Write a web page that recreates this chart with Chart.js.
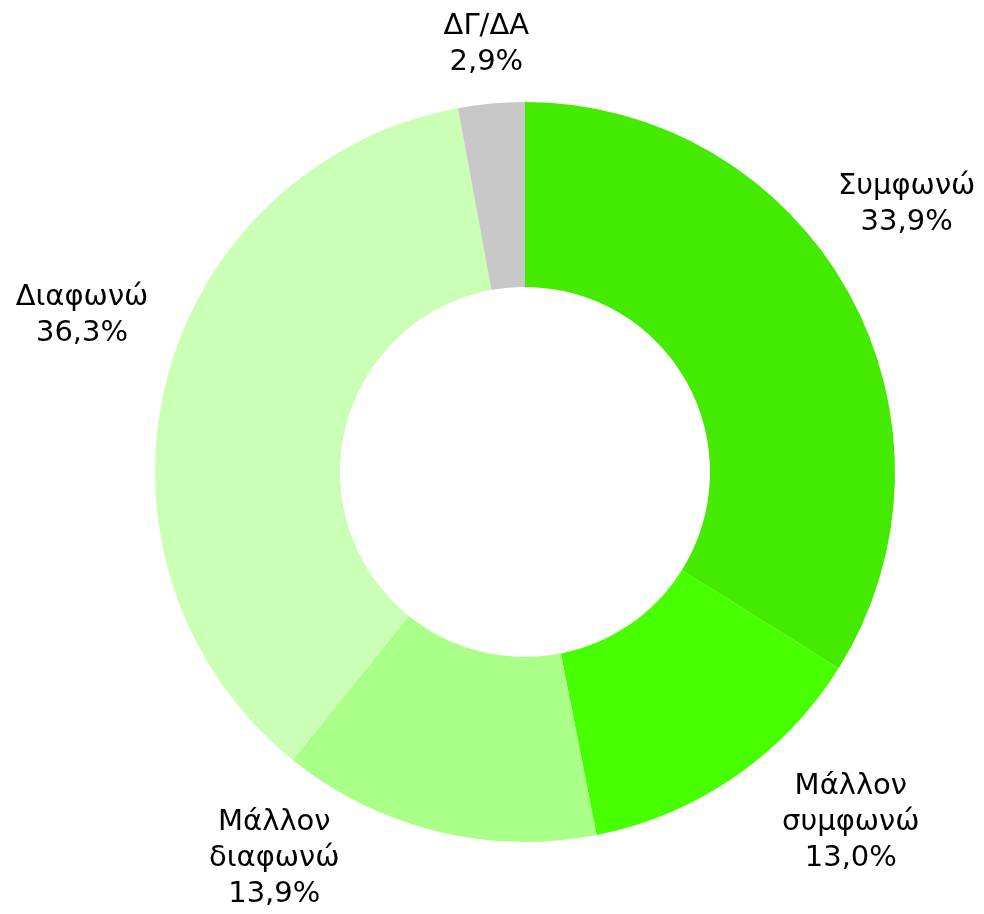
<!DOCTYPE html>
<html>
<head>
<meta charset="utf-8">
<script src="https://cdn.jsdelivr.net/npm/chart.js@4/dist/chart.umd.min.js"></script>
<style>
    html, body { margin: 0; padding: 0; background: #fff; }
    #wrap { width: 984px; height: 914px; }
</style>
</head>
<body>
<div id="wrap"><canvas id="pieChart"></canvas></div>
<script>
// data
const labels = [['Συμφωνώ'], ['Μάλλον', 'συμφωνώ'], ['Μάλλον', 'διαφωνώ'], ['Διαφωνώ'], ['ΔΓ/ΔΑ']];
const values = [33.9, 13.0, 13.9, 36.3, 2.9];
const colors = ['#44EB00', '#48FF00', '#AAFF88', '#CCFFB6', '#C8C8C8'];

// nudges for the outside labels, relative to the mid angle point
const labelNudge = [[-19, -46], [66, -27], [-141, -58], [1, -44], [3, 29]];

const outsideLabels = {
    id: 'outsideLabels',
    afterDatasetsDraw(chart, args, opts) {
        const ctx = chart.ctx;
        const meta = chart.getDatasetMeta(0);
        ctx.save();
        ctx.font = opts.font;
        ctx.fillStyle = '#000';
        ctx.textAlign = 'center';
        ctx.textBaseline = 'middle';
        meta.data.forEach((arc, i) => {
            const p = arc.getProps(['x', 'y', 'startAngle', 'endAngle', 'outerRadius'], true);
            const mid = (p.startAngle + p.endAngle) / 2;
            const r = p.outerRadius + opts.distance;
            const cx = p.x + Math.cos(mid) * r + labelNudge[i][0];
            const cy = p.y + Math.sin(mid) * r + labelNudge[i][1];
            const lines = labels[i].concat([values[i].toFixed(1).replace('.', ',') + '%']);
            const top = cy - (lines.length - 1) * opts.lineHeight / 2;
            lines.forEach((t, j) => ctx.fillText(t, cx, top + j * opts.lineHeight));
        });
        ctx.restore();
    }
};

const ctx = document.getElementById('pieChart').getContext('2d');
new Chart(ctx, {
    type: 'doughnut',
    data: {
        labels: labels.map(l => l.join(' ')),
        datasets: [{
            data: values,
            backgroundColor: colors,
            borderWidth: 0
        }]
    },
    options: {
        responsive: true,
        maintainAspectRatio: false,
        animation: false,
        cutout: '50%',
        layout: { padding: { left: 155, right: 89, top: 102, bottom: 72 } },
        plugins: {
            legend: { display: false },
            tooltip: { enabled: false },
            outsideLabels: { font: '29px "DejaVu Sans"', lineHeight: 36, distance: 88 }
        }
    },
    plugins: [outsideLabels]
});
</script>
</body>
</html>
